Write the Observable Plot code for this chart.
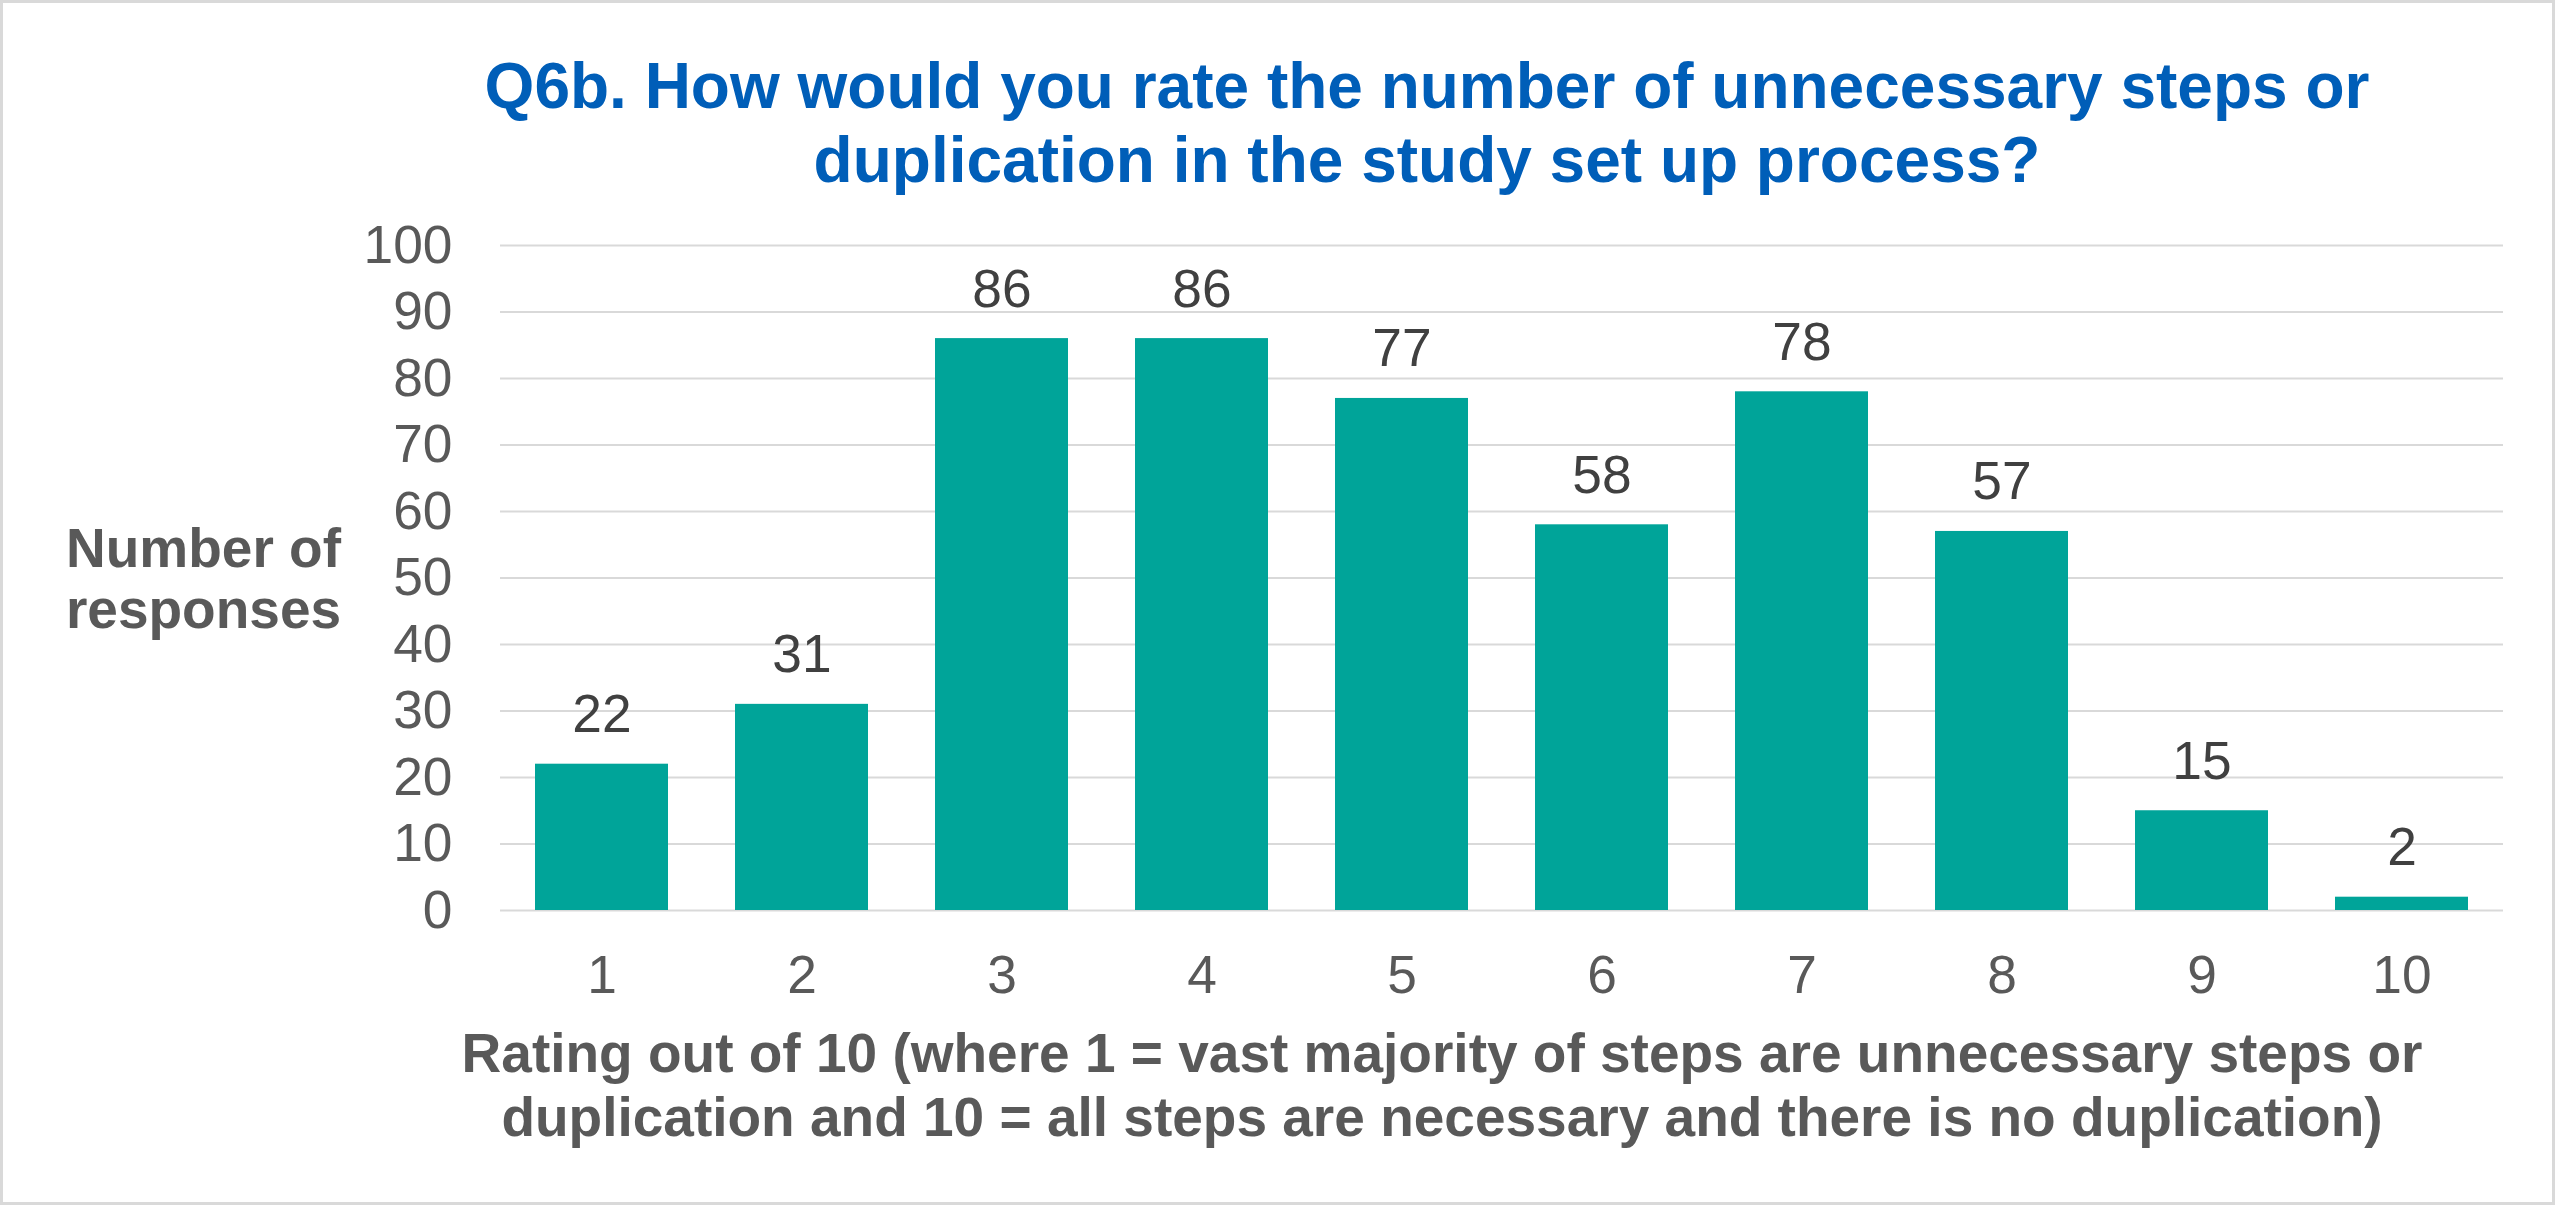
<!DOCTYPE html>
<html>
<head>
<meta charset="utf-8">
<script src="https://cdn.jsdelivr.net/npm/d3@7"></script>
<script src="https://cdn.jsdelivr.net/npm/@observablehq/plot@0.6"></script>
<style>
  html, body { margin: 0; padding: 0; background: #ffffff; }
  #wrap { position: relative; width: 2555px; height: 1205px; background: #ffffff; overflow: hidden;
          font-family: "Liberation Sans", Arial, Helvetica, sans-serif; }
  #frame { position: absolute; left: 0; top: 0; width: 2555px; height: 1205px; box-sizing: border-box;
           border: 3px solid #d9d9d9; pointer-events: none; }
  #title { position: absolute; left: 427px; top: 49px; width: 2000px; text-align: center;
           font-size: 64px; line-height: 74px; font-weight: bold; color: #005EB8; white-space: nowrap; }
  #chart { position: absolute; left: 0; top: 200px; }
</style>
</head>
<body>
<div id="wrap">
  <div id="title">Q6b. How would you rate the number of unnecessary steps or<br>duplication in the study set up process?</div>
  <div id="chart"></div>
  <div id="frame"></div>
</div>
<script>
const categories = ["1", "2", "3", "4", "5", "6", "7", "8", "9", "10"];
const values = [22, 31, 86, 86, 77, 58, 78, 57, 15, 2];
const yTicks = [0, 10, 20, 30, 40, 50, 60, 70, 80, 90, 100];
const yTitle = "Number of\nresponses";
const xTitle = "Rating out of 10 (where 1 = vast majority of steps are unnecessary steps or\nduplication and 10 = all steps are necessary and there is no duplication)";

const data = categories.map((c, i) => ({category: c, value: values[i]}));

const FS = 53.3;
const TFS = 55;
const chart = Plot.plot({
  width: 2555,
  height: 1005,
  marginTop: 45,
  marginBottom: 295,
  marginLeft: 500,
  marginRight: 52,
  style: {fontFamily: '"Liberation Sans", Arial, Helvetica, sans-serif', background: "transparent", overflow: "visible"},
  x: {domain: categories, paddingInner: 1 / 3, paddingOuter: 1 / 6},
  y: {domain: [0, 100]},
  marks: [
    Plot.gridY(yTicks, {stroke: "#d9d9d9", strokeOpacity: 1, strokeWidth: 2}),
    Plot.barY(data, {x: "category", y: "value", fill: "#00A499"}),
    Plot.text(data, {x: "category", y: "value", text: d => String(d.value), fill: "#404040",
      fontSize: FS, lineAnchor: "bottom", dy: -32}),
    Plot.axisY(yTicks, {tickSize: 0, tickPadding: 48, fontSize: FS, color: "#595959", label: null}),
    Plot.axisX({tickSize: 0, tickPadding: 45, fontSize: FS, color: "#595959", label: null}),
    Plot.text([yTitle], {frameAnchor: "left", dx: -297, textAnchor: "middle", lineAnchor: "middle",
      lineHeight: 61.3 / TFS, fontSize: TFS, fontWeight: "bold", fill: "#595959"}),
    Plot.text([xTitle], {frameAnchor: "bottom", dx: -60, dy: 115.6, textAnchor: "middle", lineAnchor: "top",
      lineHeight: 64 / TFS, fontSize: TFS, fontWeight: "bold", fill: "#595959"})
  ]
});
document.getElementById("chart").appendChild(chart);
</script>
</body>
</html>
